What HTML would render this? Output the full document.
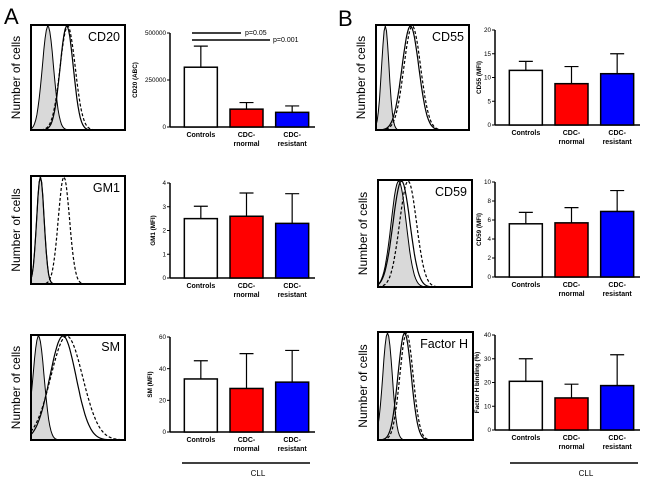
<!DOCTYPE html>
<html><head><meta charset="utf-8"><style>
body{margin:0;background:#fff;}
svg{display:block;font-family:"Liberation Sans",Arial,sans-serif;}
</style></head><body>
<svg id="fig" width="650" height="480" viewBox="0 0 650 480"></svg>
<script>
const categories = ["Controls", "CDC-rnormal", "CDC-resistant"];
const cd20Values = [318000, 95000, 78000];
const cd20Errors = [430000, 130000, 112000];
const cd20Ticks = [0, 250000, 500000];
const gm1Values = [2.5, 2.6, 2.3];
const gm1Errors = [3.02, 3.58, 3.55];
const gm1Ticks = [0, 1, 2, 3, 4];
const smValues = [33.5, 27.5, 31.5];
const smErrors = [45, 49.5, 51.5];
const smTicks = [0, 20, 40, 60];
const cd55Values = [11.5, 8.7, 10.8];
const cd55Errors = [13.4, 12.3, 15];
const cd55Ticks = [0, 5, 10, 15, 20];
const cd59Values = [5.6, 5.7, 6.9];
const cd59Errors = [6.8, 7.3, 9.1];
const cd59Ticks = [0, 2, 4, 6, 8, 10];
const fhValues = [20.5, 13.5, 18.7];
const fhErrors = [30, 19.3, 31.7];
const fhTicks = [0, 10, 20, 30, 40];
const barColors = ["#ffffff", "#ff0000", "#0000ff"];

const NS = "http://www.w3.org/2000/svg";
const svg = document.getElementById('fig');
function mk(tag, attrs, parent, text){
  const e = document.createElementNS(NS, tag);
  for (const k in attrs) e.setAttribute(k, attrs[k]);
  if (text !== undefined) e.textContent = text;
  (parent || svg).appendChild(e);
  return e;
}

function barChart(name, ax, top, bottom, ticks, values, errors, yTitle, cfg){
  const g = mk('g', {});
  
  
  const max = ticks[ticks.length - 1];
  const y = v => bottom - (v / max) * (bottom - top);
  const right = ax + 145;
  const ya = mk('line', {x1: ax, y1: top, x2: ax, y2: bottom, stroke: '#000', 'stroke-width': 1.5}, g);
  
  
  const xa = mk('line', {x1: ax, y1: bottom, x2: right, y2: bottom, stroke: '#000', 'stroke-width': 1.5}, g);
  
  
  ticks.forEach(t => {
    mk('line', {x1: ax - 3, y1: y(t), x2: ax, y2: y(t), stroke: '#000', 'stroke-width': 1}, g);
    const tl = mk('text', {x: ax - 4, y: y(t) + 2.2, 'font-size': 6.3, 'text-anchor': 'end'}, g, t);
    
    
  });
  const yt = mk('text', {x: 0, y: 0, 'font-size': 6.3, 'font-weight': 'bold', 'text-anchor': 'middle',
    transform: `translate(${cfg.titleX},${(top + bottom) / 2}) rotate(-90)`}, g, yTitle);
  
  
  const slot = (right - ax - 8) / 3;
  const bw = 33;
  values.forEach((v, i) => {
    const cx = ax + 8 + slot * i + slot / 2;
    const x0 = cx - bw / 2;
    const eb = mk('path', {d: `M${cx},${y(v)}V${y(errors[i])}M${cx - 7},${y(errors[i])}H${cx + 7}`, stroke: '#000', 'stroke-width': 1.2, fill: 'none'}, g);
    
    
    const r = mk('rect', {x: x0, y: y(v), width: bw, height: bottom - y(v), fill: barColors[i], stroke: '#000', 'stroke-width': 1.5}, g);
    
    
    const parts = categories[i] === 'Controls' ? ['Controls'] : ['CDC-', categories[i].slice(4)];
    parts.forEach((p, j) => {
      const t = mk('text', {x: cx, y: bottom + 10 + j * 9, 'font-size': 7, 'font-weight': 'bold', 'text-anchor': 'middle'}, g, p);
      
      
    });
  });
  return {y, ax, right};
}

function gauss(x, mu, s){ return Math.exp(-((x - mu) * (x - mu)) / (2 * s * s)); }
function histogram(name, x0, y0, w, h, label, peaks){
  const g = mk('g', {});
  
  
  const curve = (mu, s) => {
    let d = '';
    for (let i = 0; i <= 80; i++){
      const px = i / 80;
      const py = gauss(px, mu, s);
      d += (i ? 'L' : 'M') + (x0 + px * w).toFixed(1) + ',' + (y0 + h - py * (h - 1)).toFixed(1);
    }
    return d;
  };
  const f = mk('path', {d: curve(peaks[0], peaks[1]) + `L${x0 + w},${y0 + h}L${x0},${y0 + h}Z`, fill: '#d9d9d9', stroke: '#000', 'stroke-width': 1}, g);
  
  
  const s1 = mk('path', {d: curve(peaks[2], peaks[3]), fill: 'none', stroke: '#000', 'stroke-width': 1.2}, g);
  
  
  const s2 = mk('path', {d: curve(peaks[4], peaks[5]), fill: 'none', stroke: '#000', 'stroke-width': 1.2, 'stroke-dasharray': '3,2'}, g);
  
  
  const b = mk('rect', {x: x0, y: y0, width: w, height: h, fill: 'none', stroke: '#000', 'stroke-width': 2}, g);
  
  
  const t = mk('text', {x: x0 + w - 5, y: y0 + 16, 'font-size': 12.5, 'text-anchor': 'end'}, g, label);
  
  
  const yl = mk('text', {x: 0, y: 0, 'font-size': 12, 'text-anchor': 'middle', transform: `translate(${x0 - 11},${y0 + h / 2}) rotate(-90)`}, g, 'Number of cells');
  
  
}

// panel letters
let L = mk('text', {x: 4, y: 24, 'font-size': 22}, svg, 'A');
 
L = mk('text', {x: 338, y: 26, 'font-size': 22}, svg, 'B');
 

histogram('cd20', 31, 25, 94, 105, 'CD20', [0.18, 0.06, 0.38, 0.07, 0.39, 0.08]);
histogram('gm1', 31, 176, 94, 108, 'GM1', [0.1, 0.04, 0.1, 0.04, 0.35, 0.06]);
histogram('sm', 31, 335, 94, 105, 'SM', [0.08, 0.06, 0.34, 0.14, 0.38, 0.17]);
histogram('cd55', 376, 25, 93, 105, 'CD55', [0.1, 0.04, 0.37, 0.09, 0.39, 0.09]);
histogram('cd59', 378, 180, 94, 107, 'CD59', [0.22, 0.08, 0.25, 0.09, 0.32, 0.09]);
histogram('factorh', 378, 332, 95, 108, 'Factor H', [0.1, 0.05, 0.28, 0.07, 0.3, 0.07]);

barChart('cd20', 170, 33, 127, cd20Ticks, cd20Values, cd20Errors, 'CD20 (ABC)', {titleX: 137});
barChart('gm1', 170, 183, 278, gm1Ticks, gm1Values, gm1Errors, 'GM1 (MFI)', {titleX: 155});
barChart('sm', 170, 337, 432, smTicks, smValues, smErrors, 'SM (MFI)', {titleX: 152});
barChart('cd55', 495, 30, 125, cd55Ticks, cd55Values, cd55Errors, 'CD55 (MFI)', {titleX: 481});
barChart('cd59', 495, 182, 277, cd59Ticks, cd59Values, cd59Errors, 'CD59 (MFI)', {titleX: 481});
barChart('factorh', 495, 335, 430, fhTicks, fhValues, fhErrors, 'Factor H binding (%)', {titleX: 479});

// significance lines
let p = mk('line', {x1: 192, y1: 33, x2: 241, y2: 33, stroke: '#000', 'stroke-width': 1.5});
 
p = mk('text', {x: 245, y: 35, 'font-size': 7}, svg, 'p=0.05');
 
p = mk('line', {x1: 192, y1: 40, x2: 270, y2: 40, stroke: '#000', 'stroke-width': 1.5});
 
p = mk('text', {x: 273, y: 42, 'font-size': 7}, svg, 'p=0.001');
 

// CLL brackets
[[182, 310], [510, 638]].forEach((r, i) => {
  const l = mk('line', {x1: r[0], y1: 463, x2: r[1], y2: 463, stroke: '#000', 'stroke-width': 1.5});
  
  
  const t = mk('text', {x: (r[0] + r[1]) / 2 + 12, y: 476, 'font-size': 8, 'text-anchor': 'middle'}, svg, 'CLL');
  
  
});
</script>
</body></html>
